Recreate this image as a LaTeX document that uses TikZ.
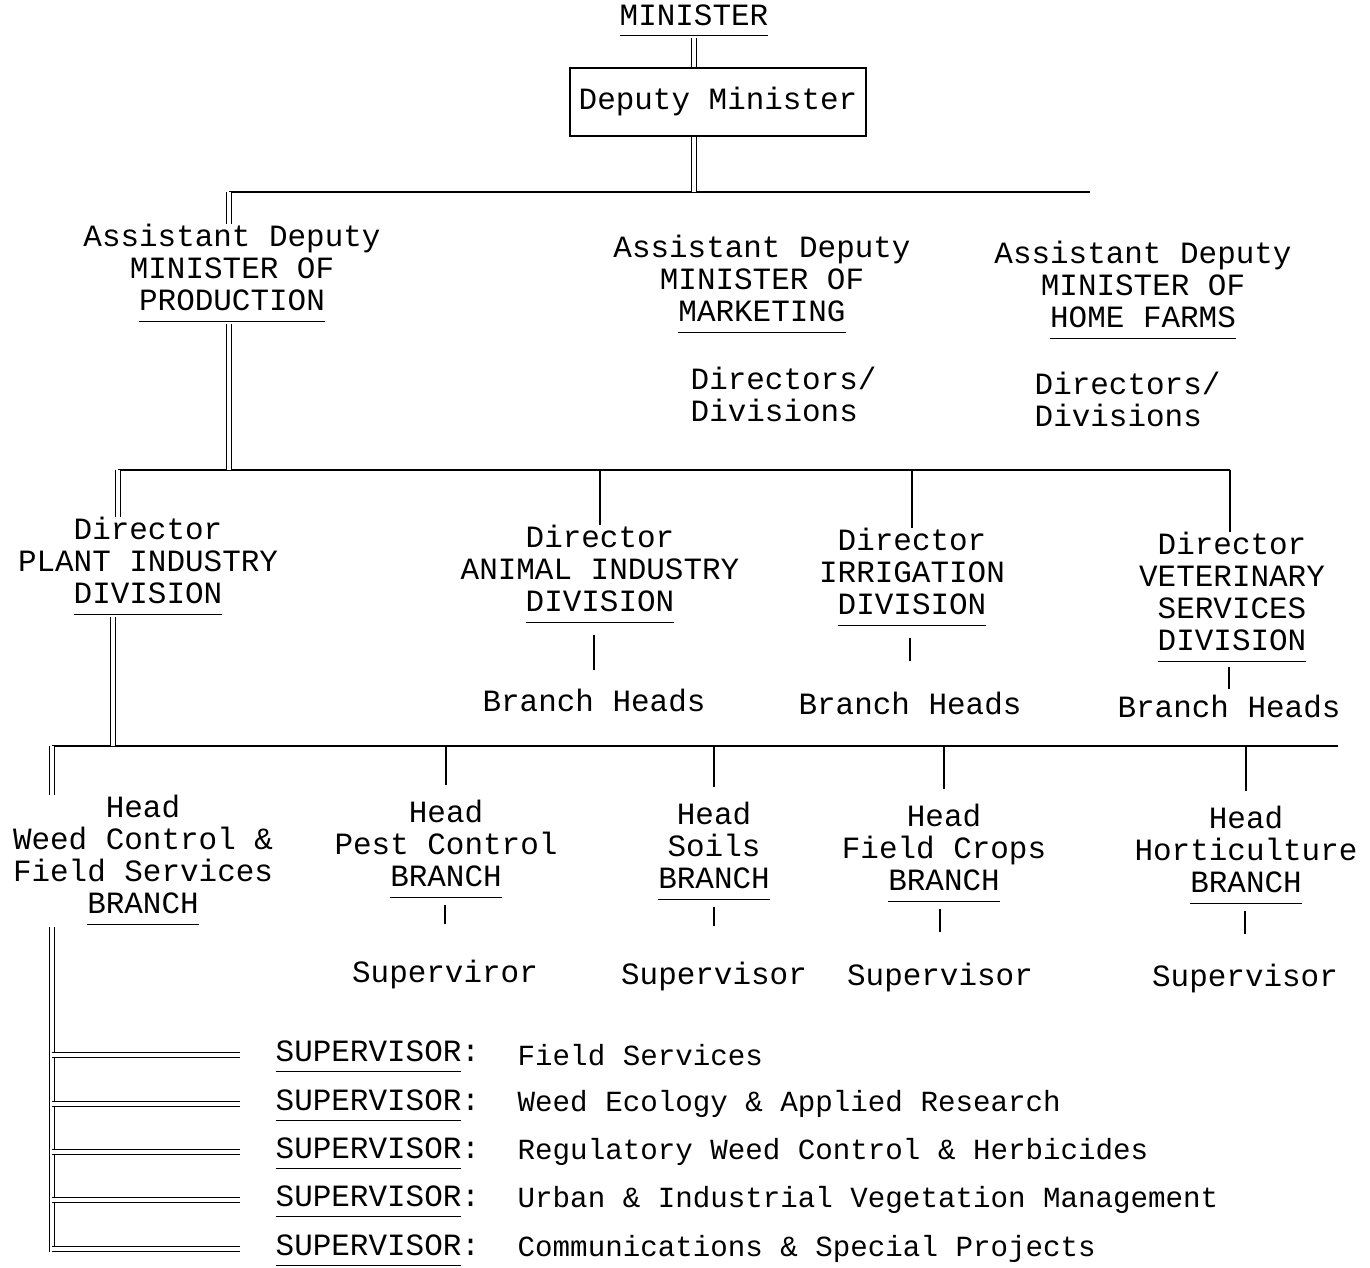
\documentclass[tikz,border=0pt]{standalone}
\usepackage{fontspec}
\setmainfont{Liberation Mono}

\newcommand{\undl}[1]{\underline{#1\rule[-1.6pt]{0pt}{0pt}}}

\tikzset{
  txt/.style={align=center, inner sep=0pt},
  desc/.style={txt, anchor=west, font=\fontsize{8.3}{9.1}\selectfont},
  link/.style={line width=0.6pt},
  twin/.style={double, double distance=0.9pt, line width=0.45pt},
}

\begin{document}
\begin{tikzpicture}[x=0.01cm, y=-0.01cm, font=\fontsize{8.8}{9.1}\selectfont]
\useasboundingbox (0,0) rectangle (1370,1268);

% minister and deputy
\node[txt] (min) at (694,21) {\undl{MINISTER}};
\node[txt, draw, link, minimum width=2.96cm, minimum height=0.68cm] (dep) at (718,102) {Deputy Minister};

% assistant deputies
\node[txt] (prod) at (232,274) {Assistant Deputy\\MINISTER OF\\\undl{PRODUCTION}};
\node[txt] (mark) at (762,285) {Assistant Deputy\\MINISTER OF\\\undl{MARKETING}};
\node[txt, align=left, anchor=west] (markd) at (690,394) {Directors/\\Divisions};
\node[txt] (home) at (1143,291) {Assistant Deputy\\MINISTER OF\\\undl{HOME FARMS}};
\node[txt, align=left, anchor=west] (homed) at (1034,399) {Directors/\\Divisions};

% directors
\node[txt] (plant) at (148,567) {Director\\PLANT INDUSTRY\\\undl{DIVISION}};
\node[txt] (anim) at (600,575) {Director\\ANIMAL INDUSTRY\\\undl{DIVISION}};
\node[txt] (irr) at (912,578) {Director\\IRRIGATION\\\undl{DIVISION}};
\node[txt] (vet) at (1232,598) {Director\\VETERINARY\\SERVICES\\\undl{DIVISION}};
\node[txt] (animb) at (594,700) {Branch Heads};
\node[txt] (irrb) at (910,703) {Branch Heads};
\node[txt] (vetb) at (1229,706) {Branch Heads};

% branch heads
\node[txt] (weed) at (143,861) {Head\\Weed Control \&\\Field Services\\\undl{BRANCH}};
\node[txt] (pest) at (446,850) {Head\\Pest Control\\\undl{BRANCH}};
\node[txt] (soil) at (714,852) {Head\\Soils\\\undl{BRANCH}};
\node[txt] (crop) at (944,854) {Head\\Field Crops\\\undl{BRANCH}};
\node[txt] (hort) at (1246,856) {Head\\Horticulture\\\undl{BRANCH}};
\node[txt] (pests) at (445,974) {Superviror};
\node[txt] (soils) at (714,976) {Supervisor};
\node[txt] (crops) at (940,977) {Supervisor};
\node[txt] (horts) at (1245,979) {Supervisor};

% weed control supervisors
\node[txt, anchor=west] (s1) at (275,1057) {\undl{SUPERVISOR}:};
\node[txt, anchor=west] (s2) at (275,1106) {\undl{SUPERVISOR}:};
\node[txt, anchor=west] (s3) at (275,1154) {\undl{SUPERVISOR}:};
\node[txt, anchor=west] (s4) at (275,1202) {\undl{SUPERVISOR}:};
\node[txt, anchor=west] (s5) at (275,1251) {\undl{SUPERVISOR}:};
\node[desc] (d1) at (517,1055) {Field Services};
\node[desc] (d2) at (517,1104) {Weed Ecology \& Applied Research};
\node[desc] (d3) at (517,1152) {Regulatory Weed Control \& Herbicides};
\node[desc] (d4) at (517,1200) {Urban \& Industrial Vegetation Management};
\node[desc] (d5) at (517,1249) {Communications \& Special Projects};

% bars
\coordinate (b1w) at (229,192);
\coordinate (b1e) at (1090,192);
\coordinate (b2w) at (118,470);
\coordinate (b2e) at (1230,470);
\coordinate (b3w) at (52,746);
\coordinate (b3e) at (1338,746);
\coordinate (b3p) at (113,746);
\coordinate (spb) at (52,1252);

\draw[link] (b1w) -- (b1e);
\draw[link] (b2w) -- (b2e);
\draw[link] (b3w) -- (b3e);

% links
\draw[twin] (min.south) -- (min.south |- dep.north);
\draw[twin] (min.south |- dep.south) -- (min.south |- b1w);
\draw[twin] (b1w) -- (b1w |- prod.north);
\draw[twin] (prod.south -| b1w) -- (b1w |- b2w);
\draw[twin] (b2w) -- (b2w |- plant.north);
\draw[link] (anim.north |- b2w) -- (anim.north);
\draw[link] (irr.north |- b2w) -- (irr.north);
\draw[link] (b2e) -- (b2e |- vet.north);
\draw[link, shorten <=1mm, shorten >=1.8mm] (anim.south -| animb.north) -- (animb.north);
\draw[link, shorten <=1mm, shorten >=3mm] (irr.south -| irrb.north) -- (irrb.north);
\draw[link, shorten <=0.3mm, shorten >=0.5mm] (vet.south -| vetb.north) -- (vetb.north);
\draw[twin] (b3p |- plant.south) -- (b3p);

\draw[twin] (b3w) -- (b3w |- weed.north);
\draw[twin] (b3w |- weed.south) -- (spb);
\draw[link, shorten >=1.5mm] (pest.north |- b3w) -- (pest.north);
\draw[link, shorten >=1.5mm] (soil.north |- b3w) -- (soil.north);
\draw[link, shorten >=1.5mm] (crop.north |- b3w) -- (crop.north);
\draw[link, shorten >=1.5mm] (hort.north |- b3w) -- (hort.north);
\draw[link, shorten <=0.5mm, shorten >=3.5mm] (pest.south -| pests.north) -- (pests.north);
\draw[link, shorten <=0.5mm, shorten >=3.5mm] (soil.south -| soils.north) -- (soils.north);
\draw[link, shorten <=0.5mm, shorten >=3mm] (crop.south -| crops.north) -- (crops.north);
\draw[link, shorten <=0.5mm, shorten >=3mm] (hort.south -| horts.north) -- (horts.north);

\draw[twin] (spb |- d1) -- ([xshift=-3.5mm]s1.west |- d1);
\draw[twin] (spb |- d2) -- ([xshift=-3.5mm]s2.west |- d2);
\draw[twin] (spb |- d3) -- ([xshift=-3.5mm]s3.west |- d3);
\draw[twin] (spb |- d4) -- ([xshift=-3.5mm]s4.west |- d4);
\draw[twin] (spb |- d5) -- ([xshift=-3.5mm]s5.west |- d5);
\end{tikzpicture}
\end{document}
